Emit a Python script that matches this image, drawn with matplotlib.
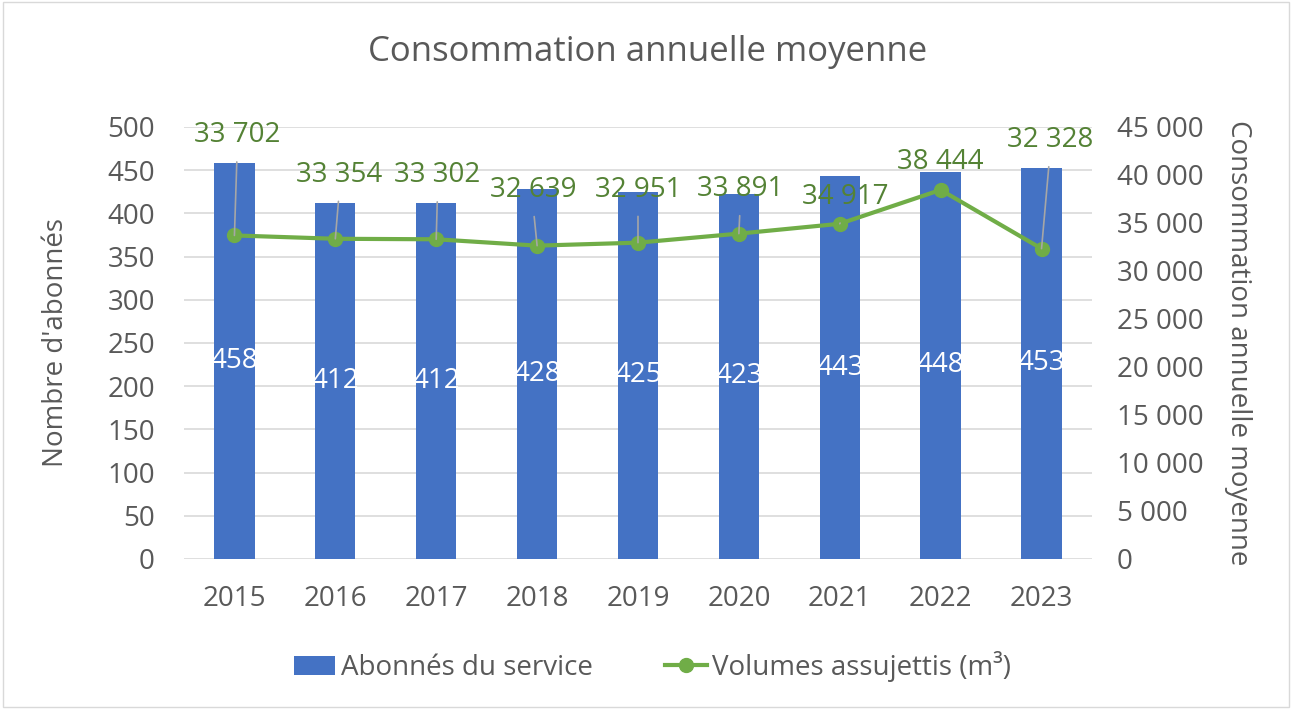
import matplotlib
matplotlib.use("Agg")
import matplotlib.pyplot as plt
from matplotlib.patches import Rectangle
from matplotlib.ticker import FuncFormatter, MultipleLocator

plt.rcParams["font.family"] = ["Open Sans", "DejaVu Sans"]

# data
years = ["2015", "2016", "2017", "2018", "2019", "2020", "2021", "2022", "2023"]
abonnes = [458, 412, 412, 428, 425, 423, 443, 448, 453]
volumes = [33702, 33354, 33302, 32639, 32951, 33891, 34917, 38444, 32328]

# label offsets (points) for the line labels, as placed in the original
label_dx = [2, 3, 1, -3, 0, 1, 4, 0, 6]
label_dy = [72, 46, 46, 40, 38, 32, 19, 20, 78]
leader = [True, True, True, True, True, True, True, False, True]

BLUE = "#4472C4"
GREEN = "#70AD47"
DKGREEN = "#548235"
GREY = "#595959"
GRID = "#D9D9D9"
FS = 20

fig = plt.figure(figsize=(12.92, 7.09), dpi=100)
ax = fig.add_axes([0.1424, 0.2116, 0.7028, 0.6093])
ax2 = ax.twinx()

x = range(len(years))
ax.bar(x, abonnes, width=0.4, color=BLUE, label="Abonnés du service", zorder=2)
for xi, v in zip(x, abonnes):
    ax.text(xi, v / 2, str(v), ha="center", va="center", color="white", fontsize=FS, zorder=3)

ax.set_ylim(0, 500)
ax.set_xlim(-0.5, len(years) - 0.5)
ax.yaxis.set_major_locator(MultipleLocator(50))
ax.grid(axis="y", color=GRID, linewidth=1.2, zorder=0)
ax.set_axisbelow(True)
ax.set_xticks(list(x))
ax.set_xticklabels(years)

ax2.plot(x, volumes, color=GREEN, linewidth=3, marker="o", markersize=10,
         label="Volumes assujettis (m³)", zorder=4)
ax2.set_ylim(0, 45000)
ax2.yaxis.set_major_locator(MultipleLocator(5000))
ax2.yaxis.set_major_formatter(FuncFormatter(lambda v, p: f"{int(v):,}".replace(",", " ")))


def fmt(v):
    return f"{v:,}".replace(",", " ")


for xi, v, dx, dy, ld in zip(x, volumes, label_dx, label_dy, leader):
    props = None
    if ld:
        props = dict(arrowstyle="-", color="#A6A6A6", linewidth=1.2,
                     shrinkA=7, shrinkB=0, relpos=(0.5, 0))
    ax2.annotate(fmt(v), xy=(xi, v), xytext=(dx, dy), textcoords="offset points",
                 ha="center", va="center", color=DKGREEN, fontsize=FS,
                 arrowprops=props, zorder=5)

for a in (ax, ax2):
    for s in a.spines.values():
        s.set_visible(False)
    a.tick_params(length=0, labelsize=FS, labelcolor=GREY)
ax.tick_params(axis="x", pad=19)
ax.tick_params(axis="y", pad=21)
ax2.tick_params(axis="y", pad=18)

ax.set_ylabel("Nombre d'abonnés", fontsize=FS, color=GREY, labelpad=27)
ax2.set_ylabel("Consommation annuelle moyenne", fontsize=FS, color=GREY,
               rotation=270, labelpad=35)

fig.text(0.5015, 0.927, "Consommation annuelle moyenne", ha="center", va="center",
         fontsize=25, color=GREY)

h1, l1 = ax.get_legend_handles_labels()
h2, l2 = ax2.get_legend_handles_labels()
fig.legend(h1 + h2, l1 + l2, loc="center", bbox_to_anchor=(0.505, 0.06), ncol=2,
           frameon=False, fontsize=FS, labelcolor=GREY, handlelength=1.5,
           handletextpad=0.2, columnspacing=2.6)

fig.add_artist(Rectangle((0.002, 0.003), 0.996, 0.994, transform=fig.transFigure,
                         fill=False, edgecolor=GRID, linewidth=1))

fig.savefig("out.png", dpi=100)
